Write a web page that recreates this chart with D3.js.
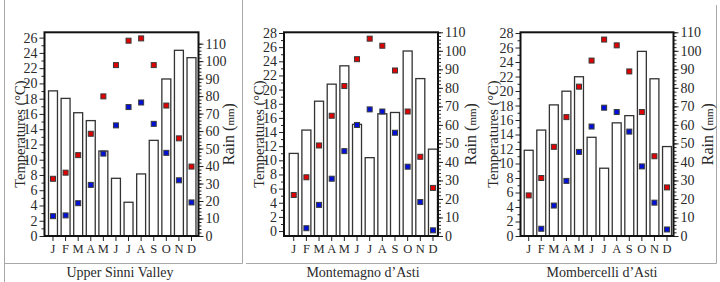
<!DOCTYPE html>
<html>
<head>
<meta charset="utf-8">
<script src="https://cdn.jsdelivr.net/npm/d3@7"></script>
<style>
body { margin: 0; background: #fff; }
text { font-family: "Liberation Serif", "Times New Roman", serif; fill: #2a2a2a; }
</style>
</head>
<body>
<script>
// mois et stations
var months = ["J", "F", "M", "A", "M", "J", "J", "A", "S", "O", "N", "D"];
var sites = ["Upper Sinni Valley", "Montemagno d\u2019Asti", "Mombercelli d\u2019Asti"];

// pluie mensuelle (mm)
var rainSinni = [83, 78.7, 70.5, 66, 48.6, 33, 19.3, 35.5, 54.7, 89.8, 106.2, 102];
var rainMontemagno = [44.6, 57.2, 72.8, 82, 91.9, 60.3, 42.3, 66, 66.7, 99.9, 85, 46.9];
var rainMombercelli = [46.3, 57.2, 70.8, 78.2, 86, 53.3, 36.6, 61.1, 65, 99.7, 84.9, 48.3];

// temperatures max (rouge) et min (bleu), null = hors du graphe
var tmaxSinni = [7.5, 8.3, 10.6, 13.4, 18.3, 22.4, 25.6, 25.9, 22.4, 17.1, 12.8, 9.1];
var tminSinni = [2.6, 2.7, 4.3, 6.7, 10.8, 14.5, 16.9, 17.5, 14.7, 10.9, 7.3, 4.4];
var tmaxMontemagno = [5.1, 7.6, 12.1, 16.3, 20.5, 24.3, 27.2, 26.2, 22.7, 16.9, 10.5, 6.1];
var tminMontemagno = [null, 0.4, 3.7, 7.4, 11.3, 15.0, 17.2, 16.9, 13.9, 9.1, 4.1, 0.1];
var tmaxMombercelli = [5.6, 8.0, 12.3, 16.4, 20.6, 24.2, 27.1, 26.3, 22.7, 17.1, 11.0, 6.7];
var tminMombercelli = [null, 1.0, 4.2, 7.6, 11.6, 15.1, 17.7, 17.1, 14.4, 9.6, 4.6, 0.9];

// graduations
var tempTicks1 = d3.range(0, 27, 2);
var tempTicks23 = d3.range(0, 29, 2);
var rainTicks = d3.range(0, 111, 10);

var larg = 720;
var haut = 282;
var yTop = 32.3;
var yBot = 236;
var serif = "'Liberation Serif', 'Times New Roman', serif";

var panels = [
	{ rain: rainSinni, tmax: tmaxSinni, tmin: tminSinni, name: sites[0], tTicks: tempTicks1,
	  x0: 44.5, x1: 198.5, band: [46.7, 197.8], tDom: [0, 26.7], rDom: [0, 116.5],
	  tTitleX: 20, rTitleX: 228, capX: 120 },
	{ rain: rainMontemagno, tmax: tmaxMontemagno, tmin: tminMontemagno, name: sites[1], tTicks: tempTicks23,
	  x0: 284, x1: 438, band: [287.4, 439.3], tDom: [-0.7, 28.1], rDom: [0, 110],
	  tTitleX: 259, rTitleX: 470, capX: 363 },
	{ rain: rainMombercelli, tmax: tmaxMombercelli, tmin: tminMombercelli, name: sites[2], tTicks: tempTicks23,
	  x0: 520.5, x1: 673.5, band: [522.4, 673.3], tDom: [0, 28.1], rDom: [0, 110],
	  tTitleX: 493, rTitleX: 707, capX: 602 }
];

var svg = d3.select("body")
	.append("svg")
	.attr("width", larg)
	.attr("height", haut);

// cadres gris
var gris = "#a8a8a8";
var cadres = [[4.5, 0, 4.5, 282], [242.5, 0, 242.5, 263.5], [716.5, 5, 716.5, 263.5],
	[4.5, 263.5, 242.5, 263.5], [246, 263.5, 716.5, 263.5]];
svg.selectAll("line.cadre")
	.data(cadres)
	.enter()
	.append("line")
	.attr("class", "cadre")
	.attr("x1", function(d) { return d[0]; })
	.attr("y1", function(d) { return d[1]; })
	.attr("x2", function(d) { return d[2]; })
	.attr("y2", function(d) { return d[3]; })
	.attr("stroke", gris)
	.attr("stroke-width", 1);

panels.forEach(function(p) {
	var g = svg.append("g");

	var xScale = d3.scaleBand()
		.domain(d3.range(12))
		.range(p.band)
		.paddingInner(0.29)
		.paddingOuter(0.145);

	var tScale = d3.scaleLinear()
		.domain(p.tDom)
		.range([yBot, yTop]);

	var rScale = d3.scaleLinear()
		.domain(p.rDom)
		.range([yBot, yTop]);

	// barres de pluie
	g.selectAll("rect.bar")
		.data(p.rain)
		.enter()
		.append("rect")
		.attr("class", "bar")
		.attr("x", function(d, i) { return xScale(i); })
		.attr("y", function(d) { return rScale(d); })
		.attr("width", xScale.bandwidth())
		.attr("height", function(d) { return yBot - rScale(d); })
		.attr("fill", "#fff")
		.attr("stroke", "#333")
		.attr("stroke-width", 1.3);

	// points de temperature
	function points(vals, couleur) {
		var pts = vals.map(function(v, i) { return { i: i, v: v }; })
			.filter(function(d) { return d.v !== null; });
		g.selectAll(null)
			.data(pts)
			.enter()
			.append("rect")
			.attr("x", function(d) { return xScale(d.i) + xScale.bandwidth() / 2 - 2.5; })
			.attr("y", function(d) { return tScale(d.v) - 2.5; })
			.attr("width", 5)
			.attr("height", 5)
			.attr("fill", couleur)
			.attr("stroke", "#3a3a3a")
			.attr("stroke-width", 1);
	}
	points(p.tmax, "#e00000");
	points(p.tmin, "#0010d8");

	// axe gauche
	var axeG = g.append("g")
		.attr("transform", "translate(" + p.x0 + ",0)")
		.call(d3.axisLeft(tScale).tickValues(p.tTicks).tickSize(5).tickPadding(2));
	g.append("g")
		.attr("transform", "translate(" + p.x0 + ",0)")
		.call(d3.axisLeft(tScale).tickValues(d3.range(1, p.tTicks[p.tTicks.length - 1], 2)).tickSize(3).tickFormat(""));

	// axe droit
	var axeD = g.append("g")
		.attr("transform", "translate(" + p.x1 + ",0)")
		.call(d3.axisRight(rScale).tickValues(rainTicks).tickSize(5).tickPadding(2));
	g.append("g")
		.attr("transform", "translate(" + p.x1 + ",0)")
		.call(d3.axisRight(rScale).tickValues(d3.range(2, 111, 2)).tickSize(3).tickFormat(""));

	// axe du bas
	var axeB = g.append("g")
		.attr("transform", "translate(0," + yBot + ")")
		.call(d3.axisBottom(xScale).tickSize(5).tickPadding(3).tickFormat(function(i) { return months[i]; }));

	g.selectAll(".domain").remove();
	g.selectAll(".tick line").attr("stroke", "#222");
	g.selectAll("g").attr("font-family", null);
	axeG.selectAll("text").style("font-family", serif).style("font-size", "14px").attr("fill", "#2a2a2a");
	axeD.selectAll("text").style("font-family", serif).style("font-size", "14px").attr("fill", "#2a2a2a");
	axeB.selectAll("text").style("font-family", serif).style("font-size", "12.5px").attr("fill", "#2a2a2a");

	// cadre du graphe
	g.append("rect")
		.attr("x", p.x0)
		.attr("y", yTop)
		.attr("width", p.x1 - p.x0)
		.attr("height", yBot - yTop)
		.attr("fill", "none")
		.attr("stroke", "#111")
		.attr("stroke-width", 2);

	// titres des axes
	g.append("text")
		.attr("transform", "translate(" + p.tTitleX + "," + (yTop + yBot) / 2 + ") rotate(-90)")
		.attr("text-anchor", "middle")
		.attr("dy", "0.35em")
		.style("font-family", serif)
		.style("font-size", "14.5px")
		.text("Temperatures (\u00b0C)");

	var rt = g.append("text")
		.attr("transform", "translate(" + p.rTitleX + "," + (yTop + yBot) / 2 + ") rotate(-90)")
		.attr("text-anchor", "middle")
		.attr("dy", "0.35em")
		.style("font-family", serif)
		.style("font-size", "16px");
	rt.append("tspan").text("Rain (");
	rt.append("tspan").style("font-size", "11px").text("mm");
	rt.append("tspan").text(")");

	// nom de la station
	g.append("text")
		.attr("x", p.capX)
		.attr("y", 277)
		.attr("text-anchor", "middle")
		.style("font-family", serif)
		.style("font-size", "14px")
		.text(p.name);
});
</script>
</body>
</html>
